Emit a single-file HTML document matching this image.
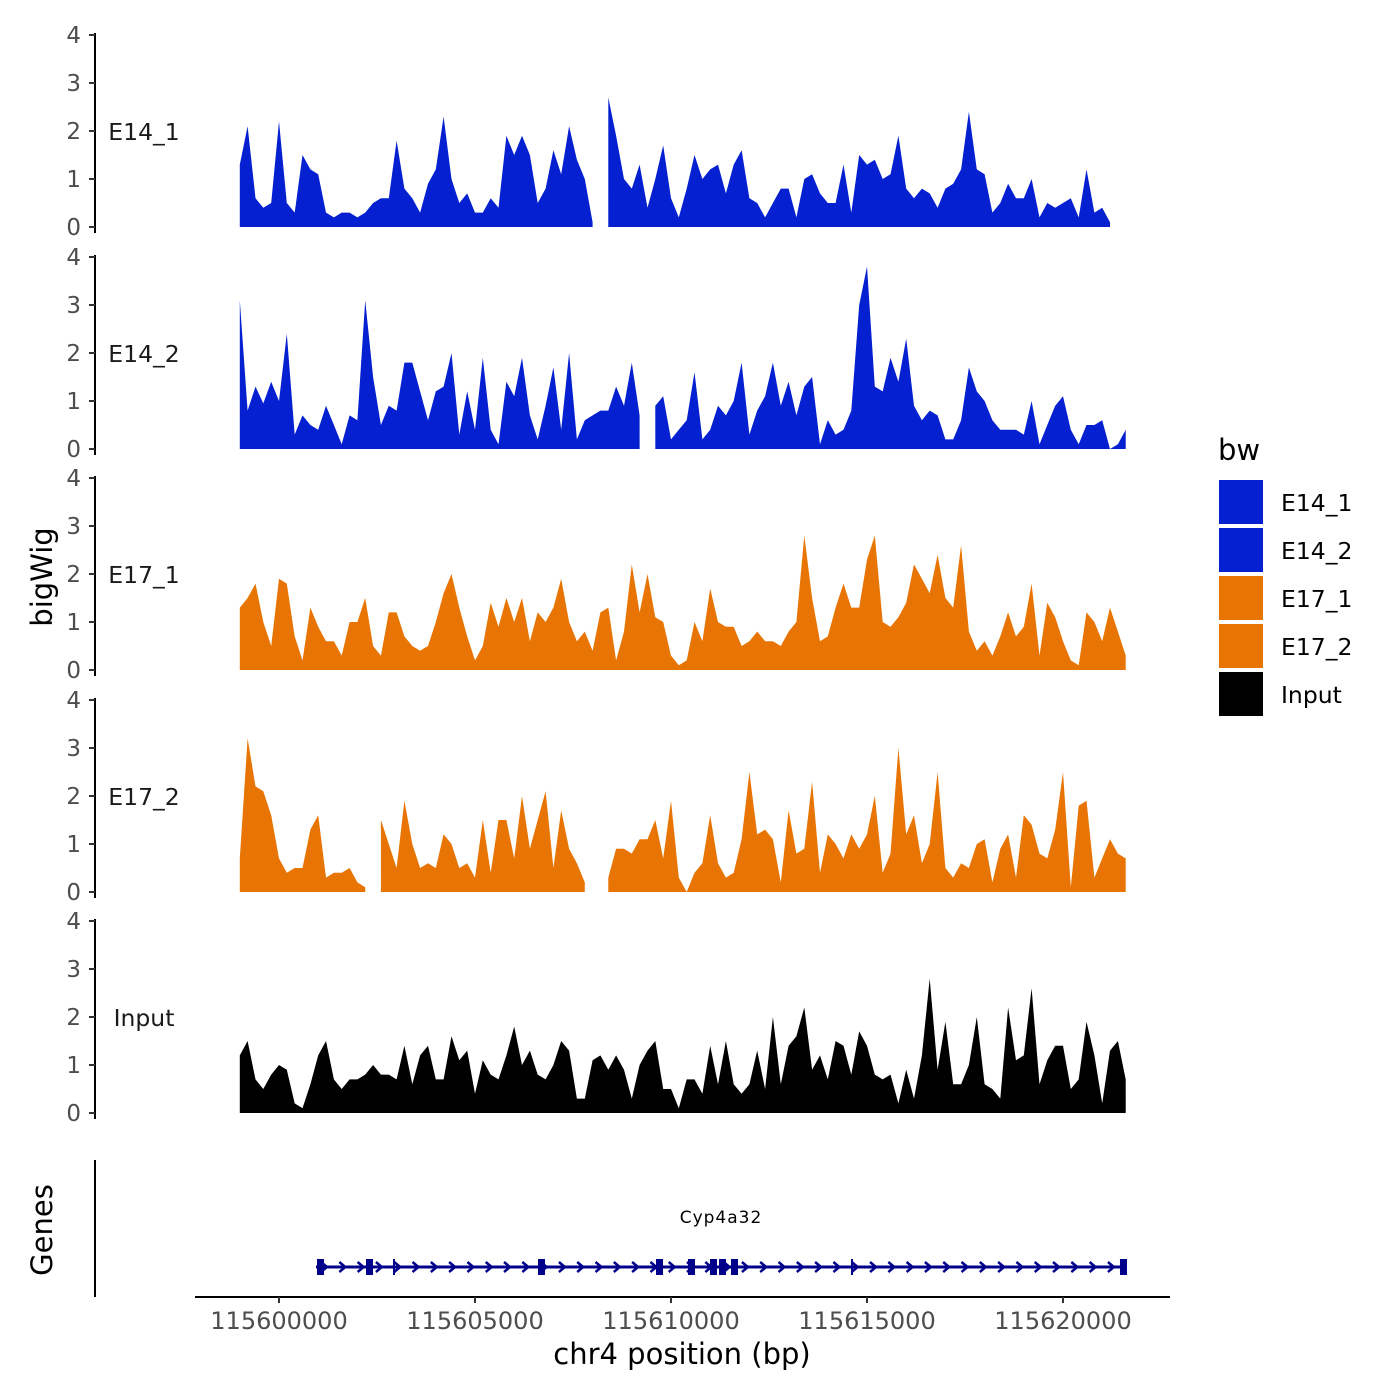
<!DOCTYPE html>
<html><head><meta charset="utf-8"><style>
body{margin:0;background:#fff}
svg{display:block;font-family:"DejaVu Sans","Liberation Sans",sans-serif}
</style></head><body>
<svg id="chart" width="1400" height="1400" viewBox="0 0 1400 1400">
<g id="tracks"></g>
<g id="genes"></g>
<g id="xaxis"></g>
<text x="52" y="577" font-size="29" text-anchor="middle" transform="rotate(-90 52 577)">bigWig</text>
<text x="52" y="1230" font-size="29" text-anchor="middle" transform="rotate(-90 52 1230)">Genes</text>
<g id="legend"></g>
</svg>
<script>
const binStart = 115599000;
const binStep = 200;
const trackNames = ["E14_1","E14_2","E17_1","E17_2","Input"];
const trackColors = ["#0420D0","#0420D0","#E87503","#E87503","#000000"];
const yTicks = [0,1,2,3,4];
const xTicks = [115600000,115605000,115610000,115615000,115620000];
const E14_1 = [1.3,2.1,0.6,0.4,0.5,2.2,0.5,0.3,1.5,1.2,1.1,0.3,0.2,0.3,0.3,0.2,0.3,0.5,0.6,0.6,1.8,0.8,0.6,0.3,0.9,1.2,2.3,1.0,0.5,0.7,0.3,0.3,0.6,0.4,1.9,1.5,1.9,1.5,0.5,0.8,1.6,1.1,2.1,1.4,1.0,0.1,null,2.7,1.9,1.0,0.8,1.3,0.4,1.0,1.7,0.6,0.2,0.8,1.5,1.0,1.2,1.3,0.7,1.3,1.6,0.6,0.5,0.2,0.5,0.8,0.8,0.2,1.0,1.1,0.7,0.5,0.5,1.3,0.3,1.5,1.3,1.4,1.0,1.1,1.9,0.8,0.6,0.8,0.7,0.4,0.8,0.9,1.2,2.4,1.2,1.1,0.3,0.5,0.9,0.6,0.6,1.0,0.2,0.5,0.4,0.5,0.6,0.2,1.2,0.3,0.4,0.1,null,null];
const E14_2 = [3.1,0.8,1.3,0.95,1.4,1.0,2.4,0.3,0.7,0.5,0.4,0.9,0.5,0.1,0.7,0.6,3.1,1.5,0.5,0.9,0.8,1.8,1.8,1.2,0.6,1.2,1.3,2.0,0.3,1.2,0.4,1.9,0.4,0.1,1.4,1.1,1.9,0.7,0.2,0.9,1.7,0.4,2.0,0.2,0.6,0.7,0.8,0.8,1.3,0.9,1.8,0.7,null,0.9,1.1,0.2,0.4,0.6,1.6,0.2,0.4,0.9,0.7,1.0,1.8,0.3,0.8,1.1,1.8,0.9,1.4,0.7,1.3,1.5,0.1,0.6,0.3,0.4,0.8,3.0,3.8,1.3,1.2,1.9,1.4,2.3,0.9,0.6,0.8,0.7,0.2,0.2,0.6,1.7,1.2,1.0,0.6,0.4,0.4,0.4,0.3,1.0,0.1,0.5,0.9,1.1,0.4,0.1,0.5,0.5,0.6,0.0,0.1,0.4];
const E17_1 = [1.3,1.5,1.8,1.0,0.5,1.9,1.8,0.7,0.2,1.3,0.9,0.6,0.6,0.3,1.0,1.0,1.5,0.5,0.3,1.2,1.2,0.7,0.5,0.4,0.5,1.0,1.6,2.0,1.3,0.7,0.2,0.5,1.4,0.9,1.5,1.0,1.5,0.6,1.2,1.0,1.3,1.9,1.0,0.6,0.8,0.4,1.2,1.3,0.2,0.8,2.2,1.2,2.0,1.1,1.0,0.3,0.1,0.2,1.0,0.6,1.7,1.0,0.9,0.9,0.5,0.6,0.8,0.6,0.6,0.5,0.8,1.0,2.8,1.5,0.6,0.7,1.3,1.8,1.3,1.3,2.3,2.8,1.0,0.9,1.1,1.4,2.2,1.9,1.6,2.4,1.5,1.3,2.6,0.8,0.4,0.6,0.3,0.7,1.2,0.7,0.9,1.8,0.3,1.4,1.1,0.6,0.2,0.1,1.2,1.0,0.6,1.3,0.8,0.3];
const E17_2 = [0.7,3.2,2.2,2.1,1.6,0.7,0.4,0.5,0.5,1.3,1.6,0.3,0.4,0.4,0.5,0.2,0.1,null,1.5,1.0,0.5,1.9,1.0,0.5,0.6,0.5,1.2,1.0,0.5,0.6,0.3,1.5,0.4,1.5,1.5,0.7,2.0,0.9,1.5,2.1,0.5,1.7,0.9,0.6,0.2,null,null,0.3,0.9,0.9,0.8,1.1,1.1,1.5,0.7,1.9,0.3,0.0,0.4,0.6,1.6,0.6,0.3,0.4,1.1,2.5,1.2,1.3,1.1,0.2,1.7,0.8,0.9,2.3,0.4,1.2,1.0,0.7,1.2,0.9,1.2,2.0,0.4,0.8,3.0,1.2,1.6,0.6,1.0,2.5,0.5,0.3,0.6,0.5,1.0,1.1,0.2,0.9,1.2,0.3,1.6,1.4,0.8,0.7,1.3,2.5,0.1,1.8,1.9,0.3,0.7,1.1,0.8,0.7];
const Input = [1.2,1.5,0.7,0.5,0.8,1.0,0.9,0.2,0.1,0.6,1.2,1.5,0.7,0.5,0.7,0.7,0.8,1.0,0.8,0.8,0.7,1.4,0.6,1.2,1.4,0.7,0.7,1.6,1.1,1.3,0.4,1.1,0.8,0.7,1.2,1.8,1.0,1.3,0.8,0.7,1.0,1.5,1.3,0.3,0.3,1.1,1.2,0.9,1.2,0.9,0.3,1.0,1.3,1.5,0.5,0.5,0.1,0.7,0.7,0.4,1.4,0.6,1.5,0.6,0.4,0.6,1.3,0.5,2.0,0.6,1.4,1.6,2.2,0.9,1.2,0.7,1.5,1.4,0.8,1.7,1.4,0.8,0.7,0.8,0.2,0.9,0.3,1.2,2.8,0.9,1.9,0.6,0.6,1.0,2.0,0.6,0.5,0.3,2.2,1.1,1.2,2.6,0.6,1.1,1.4,1.4,0.5,0.7,1.9,1.2,0.2,1.3,1.5,0.7];
const trackValues = [E14_1,E14_2,E17_1,E17_2,Input];
const geneName = "Cyp4a32";
const geneStart = 115600944;
const geneEnd = 115621581;
const exonStarts = [115601046,115602296,115606684,115609694,115610510,115611071,115611301,115611607,115621530];
const smallMarks = [115602934,115614617];

const NS="http://www.w3.org/2000/svg";
function X(bp){return 279+(bp-115600000)*0.0392;}
function mk(tag,attrs,parent){const e=document.createElementNS(NS,tag);for(const k in attrs)e.setAttribute(k,attrs[k]);parent.appendChild(e);return e;}
const tracksG=document.getElementById('tracks');
const trackBase=[227,449,670,892,1113];
const unit=48;
trackValues.forEach((vals,t)=>{
  const base=trackBase[t];
  const Y=v=>base-v*unit;
  const g=mk('g',{},tracksG);
  
  
  const ax=mk('line',{x1:95,x2:95,y1:Y(4)-2,y2:base+6,stroke:'#000','stroke-width':2},g);
  
  
  yTicks.forEach(v=>{
    const tk=mk('line',{x1:89,x2:95,y1:Y(v),y2:Y(v),stroke:'#333','stroke-width':2},g);
    
    
    const tl=mk('text',{x:81,y:Y(v)+8,'font-size':23,fill:'#4d4d4d','text-anchor':'end'},g);
    tl.textContent=v;
    
    
  });
  const lab=mk('text',{x:144,y:Y(2)+9,'font-size':23.5,'text-anchor':'middle',fill:'#1a1a1a'},g);
  lab.textContent=trackNames[t];
  
  
  let seg=[];
  const segs=[];
  vals.forEach((v,i)=>{
    if(v===null){if(seg.length)segs.push(seg);seg=[];}
    else seg.push([X(binStart+i*binStep),Y(v)]);
  });
  if(seg.length)segs.push(seg);
  segs.forEach(s=>{
    let d='M'+s[0][0]+','+base;
    s.forEach(p=>d+='L'+p[0].toFixed(1)+','+p[1].toFixed(1));
    d+='L'+s[s.length-1][0]+','+base+'Z';
    const p=mk('path',{d:d,fill:trackColors[t]},g);
    
    
  });
});
const gg=document.getElementById('genes');
const gax=mk('line',{x1:95,x2:95,y1:1160,y2:1297,stroke:'#000','stroke-width':2},gg);


const gy=1267, navy='#00008B';
const gl=mk('line',{x1:X(geneStart),x2:X(geneEnd),y1:gy,y2:gy,stroke:navy,'stroke-width':3},gg);


for(let x=X(geneStart)+8;x<X(geneEnd)-6;x+=18.3){
  const a=mk('path',{d:`M${x-3},${gy-5}L${x+3},${gy}L${x-3},${gy+5}`,stroke:navy,'stroke-width':2.5,fill:'none'},gg);
  
  
}
exonStarts.forEach(bp=>{
  const r=mk('rect',{x:X(bp)-3,y:gy-8,width:7,height:16,fill:navy},gg);
  
  
});
smallMarks.forEach(bp=>{
  const r=mk('rect',{x:X(bp)-1,y:gy-8,width:2,height:16,fill:navy},gg);
  
  
});
const gt=mk('text',{x:721,y:1223,'font-size':17,'letter-spacing':1,'text-anchor':'middle'},gg);
gt.textContent=geneName;


const xg=document.getElementById('xaxis');
const xl=mk('line',{x1:195,x2:1170,y1:1297,y2:1297,stroke:'#000','stroke-width':2},xg);


xTicks.forEach(v=>{
  const t=mk('line',{x1:X(v),x2:X(v),y1:1297,y2:1303,stroke:'#333','stroke-width':2},xg);
  
  
  const l=mk('text',{x:X(v),y:1329,'font-size':24,fill:'#4d4d4d','text-anchor':'middle'},xg);
  l.textContent=v;
  
  
});
const xt=mk('text',{x:682,y:1364,'font-size':29,'text-anchor':'middle'},xg);
xt.textContent='chr4 position (bp)';


const lg=document.getElementById('legend');
const lt=mk('text',{x:1218,y:460,'font-size':29},lg);
lt.textContent='bw';


trackNames.forEach((n,i)=>{
  const r=mk('rect',{x:1219,y:480+i*48,width:44,height:44,fill:trackColors[i]},lg);
  
  
  const t=mk('text',{x:1281,y:511+i*48,'font-size':23.5},lg);
  t.textContent=n;
  
  
});
</script>
</body></html>
